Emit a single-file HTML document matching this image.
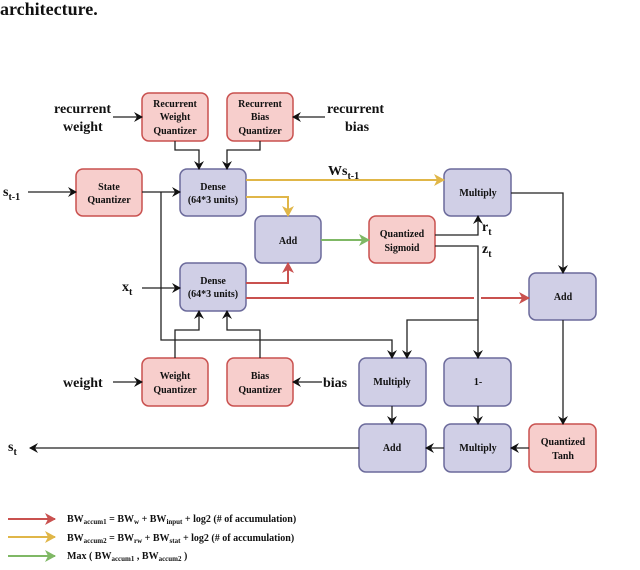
<!DOCTYPE html>
<html><head><style>
body{margin:0;background:#fff;}
svg text{font-family:"Liberation Serif",serif;font-weight:bold;fill:#111;}
</style></head><body>
<svg width="640" height="565" viewBox="0 0 640 565" xmlns="http://www.w3.org/2000/svg">
<defs>
<marker id="k" markerWidth="10" markerHeight="10" refX="8" refY="5" orient="auto" markerUnits="userSpaceOnUse"><path d="M0,0 L9,5 L0,10 L3,5z" fill="#111"/></marker>
<marker id="y" markerWidth="12" markerHeight="12" refX="10" refY="6" orient="auto" markerUnits="userSpaceOnUse"><path d="M0,0 L11,6 L0,12 L3,6z" fill="#e0b648"/></marker>
<marker id="r" markerWidth="12" markerHeight="12" refX="10" refY="6" orient="auto" markerUnits="userSpaceOnUse"><path d="M0,0 L11,6 L0,12 L3,6z" fill="#c9514f"/></marker>
<marker id="g" markerWidth="12" markerHeight="12" refX="10" refY="6" orient="auto" markerUnits="userSpaceOnUse"><path d="M0,0 L11,6 L0,12 L3,6z" fill="#7fb865"/></marker>
</defs>
<text x="0" y="15" font-size="18">architecture.</text>
<g stroke-width="1.5">
<g fill="#f7cecc" stroke="#c9514f">
<rect x="142" y="93" width="66" height="48" rx="7"/>
<rect x="227" y="93" width="66" height="48" rx="7"/>
<rect x="76" y="169" width="66" height="47" rx="7"/>
<rect x="369" y="216" width="66" height="47" rx="7"/>
<rect x="142" y="358" width="66" height="48" rx="7"/>
<rect x="227" y="358" width="66" height="48" rx="7"/>
<rect x="529" y="424" width="67" height="48" rx="7"/>
</g>
<g fill="#d0cfe6" stroke="#6b6a9b">
<rect x="180" y="169" width="66" height="47" rx="7"/>
<rect x="255" y="216" width="66" height="47" rx="7"/>
<rect x="180" y="263" width="66" height="48" rx="7"/>
<rect x="444" y="169" width="67" height="47" rx="7"/>
<rect x="529" y="273" width="67" height="47" rx="7"/>
<rect x="359" y="358" width="67" height="48" rx="7"/>
<rect x="444" y="358" width="67" height="48" rx="7"/>
<rect x="359" y="424" width="67" height="48" rx="7"/>
<rect x="444" y="424" width="67" height="48" rx="7"/>
</g>
</g>
<g fill="none" stroke="#222" stroke-width="1.3">
<path d="M113,117 H142" marker-end="url(#k)"/>
<path d="M325,117 H293" marker-end="url(#k)"/>
<path d="M28,192 H76" marker-end="url(#k)"/>
<path d="M142,192 H180" marker-end="url(#k)"/>
<path d="M175,141 V150 H199 V169" marker-end="url(#k)"/>
<path d="M260,141 V150 H227 V169" marker-end="url(#k)"/>
<path d="M142,288 H180" marker-end="url(#k)"/>
<path d="M175,358 V330 H199 V311" marker-end="url(#k)"/>
<path d="M260,358 V330 H227 V311" marker-end="url(#k)"/>
<path d="M161,192 V340 H392 V358" marker-end="url(#k)"/>
<path d="M113,382 H142" marker-end="url(#k)"/>
<path d="M322,382 H293" marker-end="url(#k)"/>
<path d="M435,235 H478 V216" marker-end="url(#k)"/>
<path d="M435,246 H478 V358" marker-end="url(#k)"/>
<path d="M478,320 H407 V358" marker-end="url(#k)"/>
<path d="M511,193 H563 V273" marker-end="url(#k)"/>
<path d="M563,320 V424" marker-end="url(#k)"/>
<path d="M529,448 H511" marker-end="url(#k)"/>
<path d="M444,448 H426" marker-end="url(#k)"/>
<path d="M392,406 V424" marker-end="url(#k)"/>
<path d="M478,406 V424" marker-end="url(#k)"/>
<path d="M359,448 H30" marker-end="url(#k)"/>
</g>
<g fill="none" stroke-width="2">
<path d="M246,180 H444" stroke="#e0b648" marker-end="url(#y)"/>
<path d="M246,197 H288 V216" stroke="#e0b648" marker-end="url(#y)"/>
<path d="M246,283 H288 V263" stroke="#c9514f" marker-end="url(#r)"/>
<path d="M246,298 H474 M481,298 H529" stroke="#c9514f" marker-end="url(#r)"/>
<path d="M321,240 H369" stroke="#7fb865" marker-end="url(#g)"/>
<path d="M8,519 H55" stroke="#c9514f" marker-end="url(#r)"/>
<path d="M8,537 H55" stroke="#e0b648" marker-end="url(#y)"/>
<path d="M8,556 H55" stroke="#7fb865" marker-end="url(#g)"/>
</g>
<g font-size="10" text-anchor="middle">
<text x="175" y="107">Recurrent</text><text x="175" y="120">Weight</text><text x="175" y="134">Quantizer</text>
<text x="260" y="107">Recurrent</text><text x="260" y="120">Bias</text><text x="260" y="134">Quantizer</text>
<text x="109" y="190">State</text><text x="109" y="203">Quantizer</text>
<text x="213" y="190">Dense</text><text x="213" y="203">(64*3 units)</text>
<text x="213" y="284">Dense</text><text x="213" y="297">(64*3 units)</text>
<text x="288" y="244">Add</text>
<text x="402" y="237">Quantized</text><text x="402" y="251">Sigmoid</text>
<text x="478" y="196">Multiply</text>
<text x="563" y="300">Add</text>
<text x="175" y="379">Weight</text><text x="175" y="393">Quantizer</text>
<text x="260" y="379">Bias</text><text x="260" y="393">Quantizer</text>
<text x="392" y="385">Multiply</text>
<text x="478" y="385">1-</text>
<text x="392" y="451">Add</text>
<text x="478" y="451">Multiply</text>
<text x="563" y="445">Quantized</text><text x="563" y="459">Tanh</text>
</g>
<g font-size="14">
<text x="54" y="113">recurrent</text><text x="63" y="131">weight</text>
<text x="327" y="113">recurrent</text><text x="345" y="131">bias</text>
<text x="63" y="387">weight</text><text x="323" y="387">bias</text>
<text x="3" y="196">s<tspan font-size="10" dy="4">t-1</tspan></text>
<text x="122" y="291">x<tspan font-size="10" dy="4">t</tspan></text>
<text x="8" y="451">s<tspan font-size="10" dy="4">t</tspan></text>
<text x="328" y="175">Ws<tspan font-size="10" dy="4">t-1</tspan></text>
<text x="482" y="231">r<tspan font-size="10" dy="4">t</tspan></text>
<text x="482" y="253">z<tspan font-size="10" dy="4">t</tspan></text>
</g>
<g font-size="10">
<text x="67" y="522">BW<tspan font-size="7" dy="2">accum1</tspan><tspan dy="-2"> = BW</tspan><tspan font-size="7" dy="2">w</tspan><tspan dy="-2"> + BW</tspan><tspan font-size="7" dy="2">input</tspan><tspan dy="-2"> + log2 (# of accumulation)</tspan></text>
<text x="67" y="541">BW<tspan font-size="7" dy="2">accum2</tspan><tspan dy="-2"> = BW</tspan><tspan font-size="7" dy="2">rw</tspan><tspan dy="-2"> + BW</tspan><tspan font-size="7" dy="2">stat</tspan><tspan dy="-2"> + log2 (# of accumulation)</tspan></text>
<text x="67" y="559">Max ( BW<tspan font-size="7" dy="2">accum1</tspan><tspan dy="-2"> , BW</tspan><tspan font-size="7" dy="2">accum2</tspan><tspan dy="-2"> )</tspan></text>
</g>
</svg>
</body></html>
